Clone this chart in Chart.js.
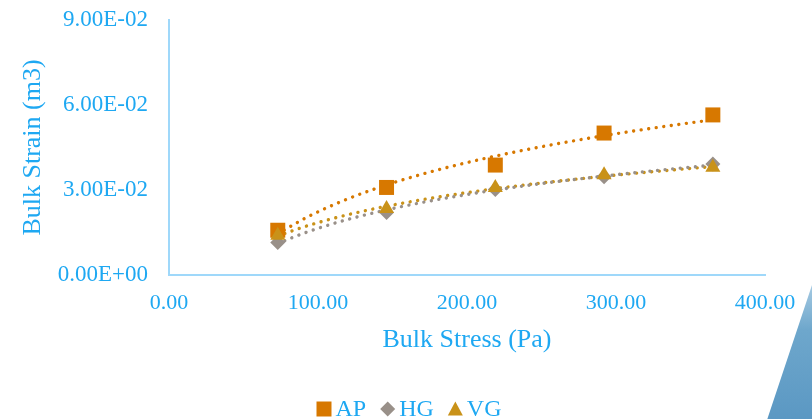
<!DOCTYPE html>
<html>
<head>
<meta charset="utf-8">
<title>Bulk Stress vs Bulk Strain</title>
<script src="https://cdn.jsdelivr.net/npm/chart.js@4.4.1/dist/chart.umd.min.js"></script>
<style>
  html, body { margin: 0; padding: 0; background: #ffffff; }
  #wrap { position: relative; width: 812px; height: 419px; overflow: hidden; }
  #chart { position: absolute; left: 0; top: 0; }
  /* slide backdrop corner in the lower right */
  #corner {
    position: absolute; left: 0; top: 0; width: 812px; height: 419px;
    clip-path: polygon(813px 282px, 813px 420px, 767px 420px);
    background: linear-gradient(to bottom, #a9cce4 282px, #6ea7cc 330px, #5b98c3 419px);
    pointer-events: none;
  }
</style>
</head>
<body>
<div id="wrap">
  <canvas id="chart" width="812" height="419"></canvas>
  <div id="corner"></div>
</div>
<script>
// Bulk stress (Pa) applied at each step
const stress = [73, 146, 219, 292, 365];

// Bulk strain per material
const strainAP = [0.0158, 0.0309, 0.0388, 0.0501, 0.0565];
const strainHG = [0.0115, 0.0221, 0.0302, 0.0347, 0.0392];
const strainVG = [0.0140, 0.0234, 0.0308, 0.0353, 0.0380];

const seriesNames = ['AP', 'HG', 'VG'];

// Axis tick values
const xTickValues = [0, 100, 200, 300, 400];
const yTickValues = [0, 0.03, 0.06, 0.09];

const COLORS = { AP: '#d77800', HG: '#999089', VG: '#c99219' };
const TEXT = '#1ea8f2';
const AXIS = '#9fd8fa';
const SERIF = "'Liberation Serif', 'Times New Roman', serif";

// Logarithmic least-squares trendline y = a ln(x) + b, sampled over the data range
function logTrend(xs, ys) {
  const lx = xs.map(Math.log);
  const n = xs.length;
  const mx = lx.reduce((s, v) => s + v, 0) / n;
  const my = ys.reduce((s, v) => s + v, 0) / n;
  let sxy = 0, sxx = 0;
  for (let i = 0; i < n; i++) {
    sxy += (lx[i] - mx) * (ys[i] - my);
    sxx += (lx[i] - mx) * (lx[i] - mx);
  }
  const a = sxy / sxx, b = my - a * mx;
  const lo = Math.min(...xs), hi = Math.max(...xs);
  const pts = [];
  const steps = 60;
  for (let k = 0; k <= steps; k++) {
    const x = lo + (hi - lo) * k / steps;
    pts.push({ x: x, y: a * Math.log(x) + b });
  }
  return pts;
}

function toPoints(xs, ys) { return xs.map((x, i) => ({ x: x, y: ys[i] })); }

const markerStyle = {
  AP: { pointStyle: 'rect', radius: 10.6 },
  HG: { pointStyle: 'rectRot', radius: 7.5 },
  VG: { pointStyle: 'triangle', radius: 8.7 }
};

const seriesValues = { AP: strainAP, HG: strainHG, VG: strainVG };
const drawOrder = { AP: 2, HG: 1, VG: 0 };

const datasets = [];
seriesNames.forEach(name => {
  datasets.push({
    label: name,
    data: toPoints(stress, seriesValues[name]),
    showLine: false,
    pointStyle: markerStyle[name].pointStyle,
    pointRadius: markerStyle[name].radius,
    pointHoverRadius: markerStyle[name].radius,
    pointBackgroundColor: COLORS[name],
    pointBorderColor: COLORS[name],
    pointBorderWidth: 0,
    backgroundColor: COLORS[name],
    borderColor: COLORS[name],
    order: drawOrder[name]
  });
});
seriesNames.forEach(name => {
  datasets.push({
    label: name + ' trend',
    data: logTrend(stress, seriesValues[name]),
    showLine: true,
    pointRadius: 0,
    borderColor: COLORS[name],
    borderWidth: 3.4,
    borderDash: [0.01, 7.6],
    borderCapStyle: 'round',
    tension: 0,
    fill: false,
    order: 5
  });
});

function sciLabel(v) {
  const [m, e] = Number(v).toExponential(2).split('e');
  const sign = e[0] === '-' ? '-' : '+';
  const digits = e.replace(/[+-]/, '').padStart(2, '0');
  return m + 'E' + sign + digits;
}

// Legend row: marker followed by series name, centred under the plot
const markerLegend = {
  id: 'markerLegend',
  afterDraw(chart) {
    const ctx = chart.ctx;
    ctx.save();
    ctx.font = "24px " + SERIF;
    ctx.textBaseline = 'middle';
    const size = 15, gapText = 4, gapItem = 14;
    const y = 409;
    const widths = seriesNames.map(n => size + gapText + ctx.measureText(n).width);
    const total = widths.reduce((s, w) => s + w, 0) + gapItem * (seriesNames.length - 1);
    let x = 409 - total / 2;
    seriesNames.forEach((n, i) => {
      const cx = x + size / 2;
      ctx.fillStyle = COLORS[n];
      ctx.beginPath();
      if (n === 'AP') {
        ctx.rect(cx - size / 2, y - size / 2, size, size);
      } else if (n === 'HG') {
        const r = size / 2;
        ctx.moveTo(cx - r, y); ctx.lineTo(cx, y - r); ctx.lineTo(cx + r, y); ctx.lineTo(cx, y + r);
        ctx.closePath();
      } else {
        ctx.moveTo(cx, y - size / 2); ctx.lineTo(cx + size / 2, y + size / 2 - 1); ctx.lineTo(cx - size / 2, y + size / 2 - 1);
        ctx.closePath();
      }
      ctx.fill();
      ctx.fillStyle = TEXT;
      ctx.fillText(n, x + size + gapText, y + 1);
      x += widths[i] + gapItem;
    });
    ctx.restore();
  }
};

new Chart(document.getElementById('chart'), {
  type: 'scatter',
  data: { datasets: datasets },
  plugins: [markerLegend],
  options: {
    responsive: false,
    animation: false,
    devicePixelRatio: 1,
    layout: { padding: { left: 0, right: 47, top: 20, bottom: 0 } },
    plugins: {
      legend: { display: false },
      tooltip: { enabled: false }
    },
    scales: {
      x: {
        type: 'linear',
        min: 0, max: 400,
        afterBuildTicks: s => { s.ticks = xTickValues.map(v => ({ value: v })); },
        afterFit: s => { s.height = 144; },
        grid: { display: false, drawTicks: false },
        border: { display: true, color: AXIS, width: 2 },
        ticks: {
          color: TEXT, padding: 15,
          font: { family: SERIF, size: 22 },
          callback: v => Number(v).toFixed(2)
        },
        title: {
          display: true, text: 'Bulk Stress (Pa)', color: TEXT,
          font: { family: SERIF, size: 26 },
          padding: { top: 0, bottom: 63 }
        }
      },
      y: {
        type: 'linear',
        min: 0, max: 0.09,
        afterBuildTicks: s => { s.ticks = yTickValues.map(v => ({ value: v })); },
        afterFit: s => { s.width = 169; s.paddingTop = 0; s.paddingBottom = 0; },
        grid: { display: false, drawTicks: false },
        border: { display: true, color: AXIS, width: 2 },
        ticks: {
          color: TEXT, padding: 21,
          font: { family: SERIF, size: 23 },
          callback: v => sciLabel(v)
        },
        title: {
          display: true, text: 'Bulk Strain (m3)', color: TEXT,
          font: { family: SERIF, size: 26 },
          padding: { top: 18, bottom: 0 }
        }
      }
    }
  }
});
</script>
</body>
</html>
